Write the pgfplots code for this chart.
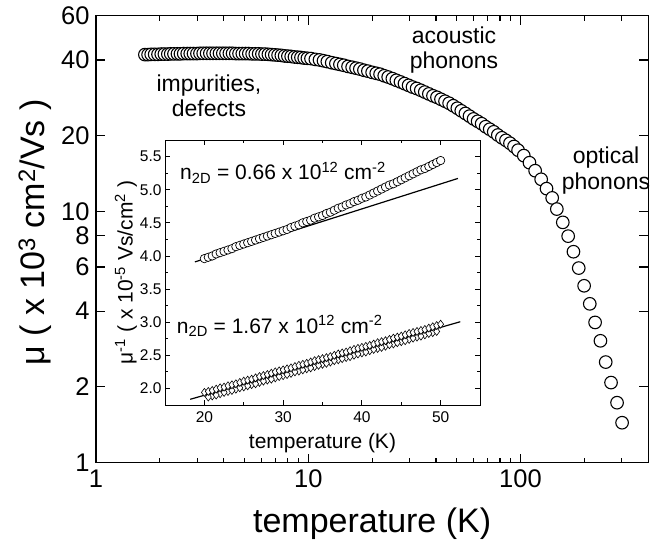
\documentclass[border=0pt]{standalone}
\usepackage{fontspec}
\setmainfont{Liberation Sans}
\usepackage{pgfplots}
\pgfplotsset{compat=1.18}

\begin{document}
\begin{tikzpicture}
\useasboundingbox (-96pt,-81.5pt) rectangle (554pt,462.5pt);
% main panel
\begin{axis}[
  at={(0,0)}, anchor=south west,
  scale only axis, width=552.3pt, height=446.8pt,
  xmode=log, ymode=log,
  xmin=1, xmax=400, ymin=1, ymax=60,
  xtick={1,10,100}, xticklabels={1,10,100},
  minor xtick={2,3,4,5,6,7,8,9,20,30,40,50,60,70,80,90,200,300},
  ytick={1,2,4,6,8,10,20,40,60}, yticklabels={1,2,4,6,8,10,20,40,60},
  minor ytick={},
  tick align=inside, major tick length=9pt, minor tick length=5pt,
  every tick/.style={black, line width=1.2pt},
  axis line style={line width=1.5pt},
  /pgf/number format/assume math mode=true,
  tick label style={font=\fontsize{25.5}{30}\selectfont},
  xticklabel style={yshift=-4pt},
  yticklabel style={xshift=-3pt},
  xlabel={temperature (K)},
  every axis x label/.style={at={(axis description cs:0.5,0)}, anchor=base, yshift=-69.5pt, font=\fontsize{34}{40}\selectfont},
  ylabel={μ ( x 10\textsuperscript{3} cm\textsuperscript{2}/Vs )},
  every axis y label/.style={at={(axis description cs:-0.1105,0.515)}, rotate=90, anchor=center, font=\fontsize{34}{40}\selectfont},
]
\addplot[only marks, mark=*, mark size=6.3pt, mark options={fill=white, draw=black, line width=1.1pt}] coordinates {
(1.70,42.0)(1.76,42.0)(1.82,42.1)(1.89,42.1)(1.96,42.1)(2.03,42.2)(2.10,42.2)(2.18,42.2)(2.25,42.3)(2.33,42.3)
(2.42,42.3)(2.50,42.3)(2.59,42.4)(2.69,42.4)(2.78,42.4)(2.88,42.4)(2.99,42.4)(3.09,42.5)(3.20,42.5)(3.32,42.5)
(3.44,42.5)(3.56,42.5)(3.69,42.5)(3.82,42.5)(3.96,42.5)(4.10,42.5)(4.25,42.5)(4.40,42.5)(4.56,42.4)(4.72,42.4)
(4.89,42.4)(5.07,42.4)(5.25,42.4)(5.44,42.3)(5.63,42.3)(5.84,42.3)(6.05,42.2)(6.26,42.2)(6.49,42.1)(6.72,42.0)
(6.96,41.9)(7.21,41.8)(7.47,41.7)(7.74,41.5)(8.02,41.4)(8.31,41.3)(8.61,41.1)(8.92,41.0)(9.24,40.9)(9.57,40.7)
(9.91,40.6)
(10.3,40.5)(10.8,40.2)(11.3,40.0)(11.8,39.7)(12.3,39.4)(12.9,39.0)(13.5,38.7)(14.1,38.4)(14.7,38.1)(15.4,37.7)
(16.1,37.4)(16.8,37.1)(17.5,36.8)(18.3,36.4)(19.1,36.1)(20.0,35.7)(20.9,35.4)(21.8,35.1)(22.8,34.6)(23.8,34.2)
(24.9,33.7)(26.0,33.2)(27.2,32.7)(28.4,32.2)(29.7,31.7)(31.0,31.2)(32.4,30.8)(33.9,30.3)(35.4,29.8)(37.0,29.3)
(38.7,28.8)(40.4,28.4)(42.2,27.9)(44.1,27.4)(46.1,26.9)(48.2,26.3)(50.4,25.7)(52.6,25.1)(55.0,24.5)(57.5,23.9)
(60.1,23.3)(62.8,22.8)(65.6,22.3)(68.5,21.7)(71.6,21.2)(74.8,20.7)(78.2,20.1)(81.7,19.6)(85.4,19.15)(89.2,18.65)
(93.2,18.1)(97.4,17.5)
(103.6,16.65)(110.2,15.6)(117.2,14.5)(125.1,13.4)(132.6,12.3)(141,11.3)(148.3,10.2)(158.2,9.03)(167.7,7.96)
(177.6,6.90)(188.1,5.94)(199.4,5.05)(212,4.28)(224.6,3.61)(238,3.05)(252,2.51)(267,2.08)(285,1.73)(301,1.44)
};
\end{axis}

% inset
\begin{axis}[
  at={(69pt,57.5pt)}, anchor=south west,
  scale only axis, width=315pt, height=265pt,
  xmin=15, xmax=55, ymin=1.75, ymax=5.75,
  xtick={20,30,40,50}, minor xtick={15,25,35,45,55},
  ytick={2,2.5,3,3.5,4,4.5,5,5.5},
  minor ytick={1.75,2.25,2.75,3.25,3.75,4.25,4.75,5.25,5.75},
  yticklabel style={/pgf/number format/.cd, fixed, fixed zerofill, precision=1},
  /pgf/number format/assume math mode=true,
  tick align=inside, major tick length=5pt, minor tick length=3pt,
  every tick/.style={black, line width=0.8pt},
  axis line style={line width=0.9pt},
  axis background/.style={fill=white},
  tick label style={font=\fontsize{15.5}{18}\selectfont},
  xticklabel style={yshift=-3pt},
  xlabel={temperature (K)},
  every axis x label/.style={at={(axis description cs:0.5,0)}, anchor=base, yshift=-43.3pt, font=\fontsize{21}{25}\selectfont},
  ylabel={μ\textsuperscript{-1} ( x 10\textsuperscript{-5} Vs/cm\textsuperscript{2} )},
  every axis y label/.style={at={(axis description cs:-0.124,0.5)}, rotate=90, anchor=center, font=\fontsize{21}{25}\selectfont},
]
\addplot[only marks, mark=*, mark size=4.2pt, mark options={fill=white, draw=black, line width=0.7pt}] coordinates {
(20.0,3.96)(20.5,3.98)(21.0,4.00)(21.5,4.03)(22.0,4.05)(22.5,4.07)(23.0,4.09)(23.5,4.11)(24.0,4.14)(24.5,4.16)
(25.0,4.18)(25.5,4.20)(26.0,4.22)(26.5,4.24)(27.0,4.26)(27.5,4.28)(28.0,4.30)(28.5,4.32)(29.0,4.34)(29.5,4.36)
(30.0,4.38)(30.5,4.40)(31.0,4.43)(31.5,4.45)(32.0,4.47)(32.5,4.50)(33.0,4.52)(33.5,4.54)(34.0,4.57)(34.5,4.59)
(35.0,4.61)(35.5,4.64)(36.0,4.66)(36.5,4.69)(37.0,4.72)(37.5,4.74)(38.0,4.77)(38.5,4.79)(39.0,4.82)(39.5,4.84)
(40.0,4.87)(40.5,4.89)(41.0,4.92)(41.5,4.95)(42.0,4.98)(42.5,5.01)(43.0,5.04)(43.5,5.07)(44.0,5.09)(44.5,5.12)
(45.0,5.15)(45.5,5.18)(46.0,5.21)(46.5,5.24)(47.0,5.27)(47.5,5.30)(48.0,5.32)(48.5,5.35)(49.0,5.38)(49.5,5.41)
(50.0,5.44)
};
\addplot[black, line width=1.2pt] coordinates {(18.8,3.91) (52.2,5.17)};
\addplot[only marks, mark=diamond*, mark size=4pt, mark options={fill=white, draw=black, line width=0.6pt}] coordinates {
(21,1.887)(22,1.921)(23,1.955)(24,1.989)(25,2.023)(26,2.057)(27,2.091)(28,2.126)(29,2.160)(30,2.194)
(31,2.228)(32,2.262)(33,2.296)(34,2.330)(35,2.365)(36,2.399)(37,2.433)(38,2.467)(39,2.501)(40,2.535)
(41,2.569)(42,2.604)(43,2.638)(44,2.672)(45,2.706)(46,2.740)(47,2.774)(48,2.808)(49,2.843)
(20.5,1.87)(21.5,1.90)(22.5,1.94)(23.5,1.97)(24.5,2.01)(25.5,2.04)(26.5,2.07)(27.5,2.11)(28.5,2.14)(29.5,2.18)
(30.5,2.21)(31.5,2.25)(32.5,2.28)(33.5,2.31)(34.5,2.35)(35.5,2.38)(36.5,2.42)(37.5,2.45)(38.5,2.48)(39.5,2.52)
(40.5,2.55)(41.5,2.59)(42.5,2.62)(43.5,2.66)(44.5,2.69)(45.5,2.72)(46.5,2.76)(47.5,2.79)(48.5,2.83)(49.5,2.86)
};
\addplot[only marks, mark=diamond*, mark size=4pt, mark options={fill=white, draw=black, line width=0.6pt}] coordinates {
(20,1.94)(20.5,1.955)(21,1.97)(21.5,1.99)(22,2.01)(22.5,2.02)(23,2.04)(23.5,2.055)(24,2.07)(24.5,2.09)
(25,2.11)(25.5,2.125)(26,2.14)(26.5,2.16)(27,2.18)(27.5,2.195)(28,2.21)(28.5,2.23)(29,2.25)(29.5,2.265)
(30,2.28)(30.5,2.295)(31,2.31)(31.5,2.33)(32,2.35)(32.5,2.365)(33,2.38)(33.5,2.40)(34,2.42)(34.5,2.435)
(35,2.45)(35.5,2.465)(36,2.48)(36.5,2.50)(37,2.52)(37.5,2.535)(38,2.55)(38.5,2.57)(39,2.59)(39.5,2.605)
(40,2.62)(40.5,2.635)(41,2.65)(41.5,2.67)(42,2.69)(42.5,2.705)(43,2.72)(43.5,2.74)(44,2.76)(44.5,2.775)
(45,2.79)(45.5,2.81)(46,2.83)(46.5,2.845)(47,2.86)(47.5,2.875)(48,2.89)(48.5,2.91)(49,2.93)(49.5,2.95)(50,2.97)
};
\addplot[black, line width=1.2pt] coordinates {(18.2,1.836) (52.5,3.007)};
\end{axis}

% annotations
\begin{scope}[every node/.style={font=\fontsize{23}{27}\selectfont, anchor=base, inner sep=0pt}]
\node at (113pt,370.8pt) {impurities,};
\node at (113pt,345.8pt) {defects};
\node at (358pt,419.2pt) {acoustic};
\node at (358pt,394.2pt) {phonons};
\node at (510pt,298.5pt) {optical};
\node at (510pt,272.5pt) {phonons};
\end{scope}
\begin{scope}[every node/.style={font=\fontsize{21}{25}\selectfont, anchor=base west, inner sep=0pt}]
\node at (84pt,282.5pt) {n\textsubscript{2D} = 0.66 x 10\textsuperscript{12} cm\textsuperscript{-2}};
\node at (80.7pt,129.2pt) {n\textsubscript{2D} = 1.67 x 10\textsuperscript{12} cm\textsuperscript{-2}};
\end{scope}
\end{tikzpicture}
\end{document}
